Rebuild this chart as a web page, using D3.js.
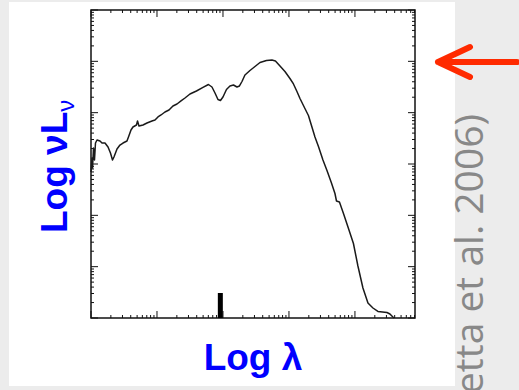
<!DOCTYPE html>
<html>
<head>
<meta charset="utf-8">
<script src="https://cdn.jsdelivr.net/npm/d3@7"></script>
<style>
    body { margin: 0; background: #ececec; }
    svg { display: block; }
</style>
</head>
<body>
<svg id="sed"></svg>
<script>
const width = 519, height = 390
const margin = {
    top: 10,
    bottom: 72,
    left: 91,
    right: 104,
}

// log10 of wavelength (micron) and log10 of nuL_nu
const logLambda = [
    -1.000, -0.985, -0.977, -0.962, -0.947, -0.932, -0.909, -0.864, -0.833, -0.788,
    -0.742, -0.705, -0.674, -0.652, -0.606, -0.561, -0.515, -0.455, -0.432, -0.394,
    -0.364, -0.311, -0.295, -0.273, -0.212, -0.152, -0.076, -0.030, 0.015, 0.061,
    0.121, 0.182, 0.242, 0.303, 0.364, 0.424, 0.500, 0.598, 0.697, 0.780,
    0.833, 0.879, 0.924, 0.962, 1.000, 1.053, 1.106, 1.159, 1.212, 1.250,
    1.288, 1.333, 1.409, 1.485, 1.561, 1.659, 1.742, 1.795, 1.864, 1.939,
    2.015, 2.068, 2.121, 2.167, 2.242, 2.295, 2.348, 2.394, 2.447, 2.515,
    2.576, 2.644, 2.697, 2.720, 2.765, 2.826, 2.902, 2.977, 3.045, 3.121,
    3.197, 3.273, 3.348, 3.485, 3.530, 3.591,
]
const logNuLnu = [
    10.844, 11.117, 10.922, 11.312, 11.078, 11.409, 11.468, 11.448, 11.409, 11.409,
    11.331, 11.214, 11.078, 11.137, 11.292, 11.370, 11.409, 11.448, 11.526, 11.663,
    11.721, 11.760, 11.838, 11.740, 11.760, 11.799, 11.838, 11.857, 11.916, 11.955,
    12.013, 12.052, 12.130, 12.169, 12.228, 12.286, 12.364, 12.422, 12.491, 12.549,
    12.500, 12.383, 12.257, 12.237, 12.305, 12.452, 12.520, 12.539, 12.500, 12.520,
    12.607, 12.734, 12.822, 12.900, 12.978, 13.017, 13.026, 13.007, 12.909, 12.802,
    12.666, 12.559, 12.413, 12.276, 12.081, 11.945, 11.721, 11.526, 11.341, 11.078,
    10.874, 10.630, 10.425, 10.279, 10.260, 10.036, 9.744, 9.451, 9.013, 8.584,
    8.292, 8.195, 8.127, 8.107, 8.078, 8.000,
]
const markerLogLambda = [0.96]

const xDomain = [-1, 3.91]
const yDomain = [8, 14]

const xLabel = "Log λ"
const yLabelMain = "Log νL"
const yLabelSub = "ν"
const citation = "etta et al. 2006)"

const svg = d3.select("svg#sed")
    .attr("viewBox", [0, 0, width, height])
    .attr("width", width)
    .attr("height", height)

// slide background
svg.append("rect")
    .attr("width", width).attr("height", height)
    .attr("fill", "#ececec")
svg.append("rect")
    .attr("x", 9).attr("y", 2)
    .attr("width", 446).attr("height", 384)
    .attr("fill", "#ffffff")

const x = d3.scaleLog()
    .domain(xDomain.map(d => 10 ** d))
    .range([margin.left, width - margin.right])

const y = d3.scaleLog()
    .domain(yDomain.map(d => 10 ** d))
    .range([height - margin.bottom, margin.top])

const isMajor = t => Math.abs(Math.log10(t) - Math.round(Math.log10(t))) < 1e-6

const [x0, x1] = x.range()
const [y0, y1] = y.range()

// ticks on all four sides, pointing inward
const xTicks = x.ticks().filter(t => x(t) >= x0 - 0.5 && x(t) <= x1 + 0.5)
const yTicks = y.ticks().filter(t => y(t) <= y0 + 0.5 && y(t) >= y1 - 0.5)

const ticks = svg.append("g").classed("ticks", true)
    .attr("stroke", "#111")
    .attr("stroke-width", 1)

ticks.selectAll("line.xb")
    .data(xTicks)
    .enter()
    .append("line").classed("xb", true)
    .attr("x1", d => x(d)).attr("x2", d => x(d))
    .attr("y1", y0).attr("y2", d => y0 - (isMajor(d) ? 7 : 3))

ticks.selectAll("line.xt")
    .data(xTicks)
    .enter()
    .append("line").classed("xt", true)
    .attr("x1", d => x(d)).attr("x2", d => x(d))
    .attr("y1", y1).attr("y2", d => y1 + (isMajor(d) ? 7 : 3))

ticks.selectAll("line.yl")
    .data(yTicks)
    .enter()
    .append("line").classed("yl", true)
    .attr("y1", d => y(d)).attr("y2", d => y(d))
    .attr("x1", x0).attr("x2", d => x0 + (isMajor(d) ? 7 : 3))

ticks.selectAll("line.yr")
    .data(yTicks)
    .enter()
    .append("line").classed("yr", true)
    .attr("y1", d => y(d)).attr("y2", d => y(d))
    .attr("x1", x1).attr("x2", d => x1 - (isMajor(d) ? 7 : 3))

// frame
svg.append("rect")
    .attr("x", x0).attr("y", y1)
    .attr("width", x1 - x0).attr("height", y0 - y1)
    .attr("fill", "none")
    .attr("stroke", "#111")
    .attr("stroke-width", 1.5)

// SED curve
const points = logLambda.map((l, i) => [10 ** l, 10 ** logNuLnu[i]])
svg.append("path")
    .datum(points)
    .attr("d", d3.line().x(d => x(d[0])).y(d => y(d[1])))
    .attr("fill", "none")
    .attr("stroke", "#1a1a1a")
    .attr("stroke-width", 1.5)
    .attr("stroke-linejoin", "round")

// marker on the wavelength axis
svg.selectAll("rect.marker")
    .data(markerLogLambda)
    .enter()
    .append("rect").classed("marker", true)
    .attr("x", d => x(10 ** d) - 2.5)
    .attr("y", y0 - 25)
    .attr("width", 5)
    .attr("height", 25)
    .attr("fill", "#000")

// axis titles
svg.append("text")
    .attr("x", (x0 + x1) / 2)
    .attr("y", 370)
    .attr("text-anchor", "middle")
    .attr("font-family", "'Liberation Sans', Arial, sans-serif")
    .attr("font-weight", "bold")
    .attr("font-size", 37)
    .attr("fill", "#0000ff")
    .text(xLabel)

const yTitle = svg.append("text")
    .attr("transform", "translate(67, 233) rotate(-90)")
    .attr("font-family", "'Liberation Sans', Arial, sans-serif")
    .attr("font-weight", "bold")
    .attr("font-size", 37)
    .attr("fill", "#0000ff")
yTitle.append("tspan").text(yLabelMain)
yTitle.append("tspan")
    .attr("dy", 7)
    .attr("font-size", 24)
    .attr("font-weight", "normal")
    .text(yLabelSub)

// citation, cut off by the slide edge
svg.append("text")
    .attr("transform", "translate(483, 114) rotate(-90)")
    .attr("text-anchor", "end")
    .attr("font-family", "'Open Sans', sans-serif")
    .attr("font-size", 39)
    .attr("fill", "#888888")
    .text(citation)

// red arrow
svg.append("path")
    .attr("d", "M470,47 L438,62 L470,77 M438,62 L517,62")
    .attr("fill", "none")
    .attr("stroke", "#ff2a00")
    .attr("stroke-width", 6)
    .attr("stroke-linecap", "round")
    .attr("stroke-linejoin", "round")
</script>
</body>
</html>
